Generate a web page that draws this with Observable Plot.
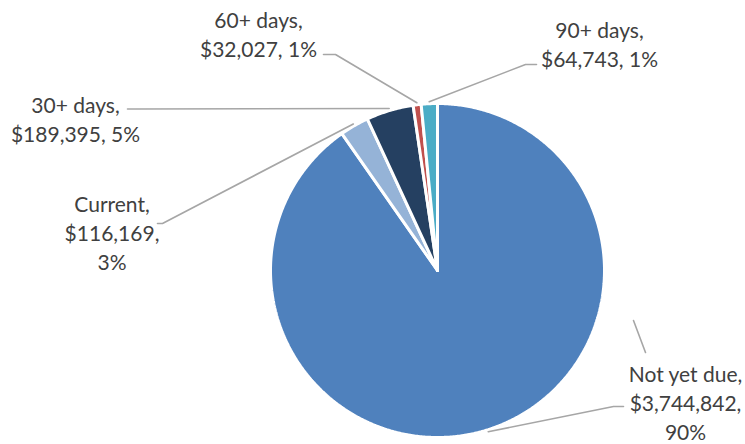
<!DOCTYPE html>
<html>
<head>
<meta charset="utf-8">
<script src="https://cdn.jsdelivr.net/npm/d3@7"></script>
<script src="https://cdn.jsdelivr.net/npm/@observablehq/plot@0.6"></script>
<style>
  body { margin: 0; background: #fff; }
  #chart svg { display: block; }
</style>
</head>
<body>
<div id="chart"></div>
<script>
// Receivables ageing breakdown
const categories = ["Not yet due", "Current", "30+ days", "60+ days", "90+ days"];
const amounts = [3744842, 116169, 189395, 32027, 64743];
const percentLabels = ["90%", "3%", "5%", "1%", "1%"];
const colors = ["#4F81BD", "#95B3D7", "#254061", "#C0504D", "#4BACC6"];

// Canvas and pie geometry (pixels)
const W = 745, H = 444;
const cx = 437, cy = 270, R = 167;

// Label layout (pixels): block centre, leader elbow and leader end, and whether
// every part of the label sits on its own line.
const labelLayout = {
  "Not yet due": { at: [685, 401.5], elbow: [613, 406], end: [623, 406], stacked: true },
  "Current":     { at: [111.5, 231.5], elbow: [162, 223], end: [157, 223], stacked: true },
  "30+ days":    { at: [75, 117.5], elbow: [135, 108.5], end: [127, 108.5], stacked: false },
  "60+ days":    { at: [258, 32.5], elbow: [335, 54], end: [323, 54], stacked: false },
  "90+ days":    { at: [599, 42.5], elbow: [525, 64], end: [536, 64], stacked: false }
};
// stray leader stub beside the largest slice
const stub = [[633, 320], [645, 352]];

// pixel -> pie units (radius 1, y up)
const toUnit = ([px, py]) => [(px - cx) / R, (cy - py) / R];

const total = d3.sum(amounts);
const fmt = d3.format(",");

// slices run clockwise from 12 o'clock
let acc = 0;
const slices = categories.map((category, i) => {
  const a0 = acc / total * 2 * Math.PI;
  acc += amounts[i];
  const a1 = acc / total * 2 * Math.PI;
  return { category, amount: amounts[i], pct: percentLabels[i], a0, a1, mid: (a0 + a1) / 2 };
});

const slicePoints = slices.flatMap(s => {
  const n = Math.max(2, Math.ceil((s.a1 - s.a0) / (Math.PI / 360)));
  const pts = [{ category: s.category, x: 0, y: 0 }];
  for (let k = 0; k <= n; k++) {
    const a = s.a0 + (s.a1 - s.a0) * k / n;
    pts.push({ category: s.category, x: Math.sin(a), y: Math.cos(a) });
  }
  pts.push({ category: s.category, x: 0, y: 0 });
  return pts;
});

const leaderPoints = slices.flatMap(s => {
  const L = labelLayout[s.category];
  const r0 = 1.012;
  const start = [r0 * Math.sin(s.mid), r0 * Math.cos(s.mid)];
  return [start, toUnit(L.elbow), toUnit(L.end)].map(([x, y]) => ({ id: s.category, x, y }));
}).concat(stub.map(p => { const [x, y] = toUnit(p); return { id: "stub", x, y }; }));

const labels = slices.map(s => {
  const L = labelLayout[s.category];
  const [x, y] = toUnit(L.at);
  const name = `${s.category},`;
  const value = `$${fmt(s.amount)},`;
  const text = L.stacked ? `${name}\n${value}\n${s.pct}` : `${name}\n${value} ${s.pct}`;
  return { x, y, text };
});

const chart = Plot.plot({
  width: W,
  height: H,
  margin: 0,
  style: { background: "#fff", fontFamily: "Lato, sans-serif" },
  x: { domain: [-cx / R, (W - cx) / R], axis: null },
  y: { domain: [-(H - cy) / R, cy / R], axis: null },
  color: { domain: categories, range: colors },
  marks: [
    Plot.line(slicePoints, {
      x: "x", y: "y", z: "category",
      fill: "category", stroke: "#fff", strokeWidth: 3,
      strokeLinejoin: "miter", curve: "linear"
    }),
    Plot.line(leaderPoints, {
      x: "x", y: "y", z: "id",
      stroke: "#A6A6A6", strokeWidth: 1.6, curve: "linear"
    }),
    Plot.text(labels, {
      x: "x", y: "y", text: "text",
      fontSize: 21, lineHeight: 1.38,
      fill: "#404040", fontFamily: "Lato, sans-serif",
      textAnchor: "middle", lineAnchor: "middle"
    })
  ]
});

document.getElementById("chart").appendChild(chart);
</script>
</body>
</html>
